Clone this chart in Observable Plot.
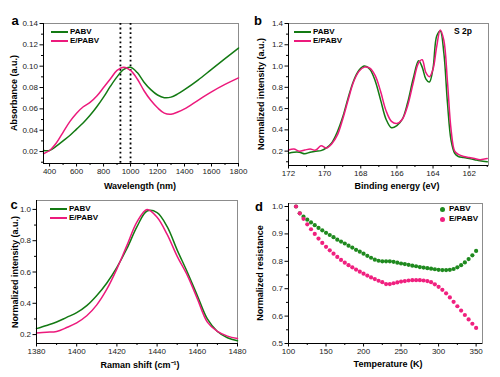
<!DOCTYPE html>
<html><head><meta charset="utf-8">
<script src="https://cdn.jsdelivr.net/npm/d3@7"></script>
<script src="https://cdn.jsdelivr.net/npm/@observablehq/plot@0.6"></script>
<style>
body{margin:0;background:#fff;}
#root{position:relative;width:500px;height:377px;overflow:hidden;font-family:"Liberation Sans",Arial,sans-serif;color:#000;}
.t{position:absolute;white-space:nowrap;line-height:1;transform:translate(-50%,-50%);}
.leg{position:absolute;font-size:8px;font-weight:bold;display:flex;align-items:center;white-space:nowrap;line-height:1;transform:translateY(-50%);}
.sw{display:inline-block;width:17px;height:0;border-top:2px solid;margin-right:2px;}
.dt{display:inline-block;width:5px;height:5px;border-radius:50%;margin-right:4px;}
</style></head>
<body><div id="root"></div>
<script>
const FONT = '"Liberation Sans", Arial, sans-serif';
const GREEN = "#137a13";
const PINK = "#ec1a7c";
const seriesNames = ["PABV", "E/PABV"];

// ---------- Panel a: absorbance ----------
const aWavelength = [355,400,450,500,550,600,650,700,750,800,850,900,950,1000,1050,1100,1150,1200,1250,1300,1350,1400,1500,1600,1700,1800];
const aPABV  = [0.021,0.021,0.025,0.030,0.035,0.041,0.047,0.054,0.062,0.071,0.081,0.090,0.097,0.099,0.094,0.085,0.078,0.073,0.0705,0.071,0.074,0.078,0.087,0.097,0.107,0.117];
const aEPABV = [0.018,0.021,0.028,0.038,0.048,0.056,0.062,0.066,0.072,0.080,0.088,0.096,0.099,0.096,0.088,0.077,0.068,0.061,0.056,0.055,0.057,0.060,0.068,0.076,0.083,0.089];
const aMarkers = [925, 1000];
const aXTicks = [400,600,800,1000,1200,1400,1600,1800];
const aYTicks = [0.02,0.04,0.06,0.08,0.10,0.12,0.14];

// ---------- Panel b: XPS S 2p ----------
const bEnergy = [172,171.7,171.4,171.1,170.8,170.5,170.2,169.9,169.6,169.3,169.0,168.7,168.4,168.1,167.8,167.5,167.2,166.9,166.6,166.3,166.0,165.7,165.4,165.1,164.8,164.6,164.4,164.2,164.0,163.8,163.6,163.4,163.2,163.0,162.8,162.6,162.3,162.0,161.7,161.4,161.0];
const bPABV  = [0.18,0.19,0.19,0.175,0.19,0.20,0.205,0.23,0.28,0.38,0.52,0.70,0.86,0.96,1.00,0.97,0.86,0.68,0.50,0.42,0.44,0.50,0.66,0.88,1.05,0.99,0.88,0.85,0.98,1.28,1.33,1.12,0.65,0.30,0.18,0.15,0.14,0.13,0.12,0.11,0.10];
const bEPABV = [0.21,0.22,0.20,0.21,0.22,0.21,0.25,0.23,0.27,0.35,0.50,0.68,0.85,0.95,0.99,0.98,0.91,0.76,0.58,0.48,0.46,0.50,0.63,0.84,1.03,1.06,0.94,0.90,0.97,1.18,1.34,1.24,0.85,0.40,0.20,0.17,0.15,0.14,0.13,0.12,0.13];
const bXTicks = [172,170,168,166,164,162];
const bYTicks = [0.2,0.4,0.6,0.8,1.0,1.2,1.4];

// ---------- Panel c: Raman ----------
const cShift = [1380,1385,1390,1395,1400,1405,1410,1415,1420,1425,1430,1435,1440,1445,1450,1455,1460,1465,1470,1475,1480];
const cPABV  = [0.238,0.258,0.28,0.31,0.34,0.385,0.45,0.53,0.63,0.75,0.89,0.99,0.98,0.89,0.74,0.60,0.45,0.30,0.22,0.18,0.16];
const cEPABV = [0.21,0.215,0.22,0.245,0.275,0.32,0.39,0.49,0.62,0.77,0.92,1.0,0.95,0.84,0.70,0.58,0.43,0.28,0.22,0.19,0.175];
const cXTicks = [1380,1400,1420,1440,1460,1480];
const cYTicks = [0.2,0.4,0.6,0.8,1.0];

// ---------- Panel d: resistance vs temperature ----------
const dTemp = [110,115,120,125,130,135,140,145,150,155,160,165,170,175,180,185,190,195,200,205,210,215,220,225,230,235,240,245,250,255,260,265,270,275,280,285,290,295,300,305,310,315,320,325,330,335,340,345,350];
const dPABV  = [1.0,0.975,0.963,0.952,0.942,0.932,0.922,0.913,0.904,0.896,0.888,0.879,0.872,0.865,0.857,0.85,0.842,0.835,0.828,0.82,0.813,0.806,0.802,0.80,0.80,0.80,0.798,0.795,0.792,0.79,0.787,0.784,0.782,0.779,0.777,0.775,0.773,0.771,0.769,0.768,0.768,0.769,0.772,0.778,0.786,0.796,0.808,0.822,0.838];
const dEPABV = [1.0,0.975,0.955,0.935,0.917,0.9,0.883,0.867,0.853,0.84,0.828,0.816,0.805,0.795,0.786,0.778,0.77,0.762,0.755,0.748,0.741,0.735,0.729,0.724,0.717,0.717,0.72,0.723,0.726,0.728,0.73,0.731,0.731,0.731,0.73,0.728,0.724,0.716,0.707,0.696,0.683,0.668,0.652,0.636,0.62,0.604,0.588,0.572,0.557];
const dXTicks = [100,150,200,250,300,350];
const dYTicks = [0.5,0.6,0.7,0.8,0.9,1.0];

const rows = (xs, ys) => xs.map((x, i) => ({x, y: ys[i]}));
const root = document.getElementById("root");

function makePanel(c) {
  const p = Plot.plot({
    width: c.w, height: c.h,
    marginLeft: c.mL, marginRight: c.mR, marginTop: c.mT, marginBottom: c.mB,
    x: {domain: c.xd}, y: {domain: c.yd},
    style: {fontFamily: FONT, fontSize: "8px", color: "#000", background: "transparent", overflow: "visible"},
    marks: [
      Plot.frame({stroke: "#8c8c8c", strokeWidth: 1}),
      ...c.marks,
      Plot.ruleX([c.xd[0]], {stroke: "#000", strokeWidth: 1}),
      Plot.ruleY([c.yd[0]], {stroke: "#000", strokeWidth: 1}),
      Plot.axisX(c.xMinor, {tickSize: 2, tickFormat: () => "", label: null}),
      Plot.axisY(c.yMinor, {tickSize: 2, tickFormat: () => "", label: null}),
      Plot.axisX(c.xTicks, {tickSize: 3.5, tickPadding: 1.5, tickFormat: c.xf, label: null, fill: "#222"}),
      Plot.axisY(c.yTicks, {tickSize: 3.5, tickPadding: 2, tickFormat: c.yf, label: null, fill: "#222"})
    ]
  });
  p.style.position = "absolute";
  p.style.left = c.left + "px";
  p.style.top = c.top + "px";
  root.appendChild(p);
}

const lineOpts = (stroke) => ({x: "x", y: "y", stroke, strokeWidth: 1.5, curve: "catmull-rom"});

makePanel({
  left: 0, top: 0, w: 250, h: 195, mL: 43, mR: 12, mT: 23, mB: 32,
  xd: [355, 1800], yd: [0.0088, 0.14],
  xTicks: aXTicks, yTicks: aYTicks,
  xMinor: d3.range(500, 1800, 200), yMinor: d3.range(0.01, 0.135, 0.02),
  xf: d3.format("d"), yf: d3.format(".2f"),
  marks: [
    Plot.ruleX(aMarkers, {stroke: "#000", strokeWidth: 1.8, strokeDasharray: "1.8 2.8"}),
    Plot.line(rows(aWavelength, aPABV), lineOpts(GREEN)),
    Plot.line(rows(aWavelength, aEPABV), lineOpts(PINK))
  ]
});

makePanel({
  left: 250, top: 0, w: 250, h: 195, mL: 38, mR: 12, mT: 23, mB: 30,
  xd: [172, 160.93], yd: [0.065, 1.4],
  xTicks: bXTicks, yTicks: bYTicks,
  xMinor: d3.range(161, 172, 2), yMinor: d3.range(0.1, 1.35, 0.2),
  xf: d3.format("d"), yf: d3.format(".1f"),
  marks: [
    Plot.line(rows(bEnergy, bPABV), lineOpts(GREEN)),
    Plot.line(rows(bEnergy, bEPABV), lineOpts(PINK))
  ]
});

makePanel({
  left: 0, top: 190, w: 250, h: 187, mL: 36, mR: 13, mT: 10, mB: 34,
  xd: [1380, 1480], yd: [0.143, 1.057],
  xTicks: cXTicks, yTicks: cYTicks,
  xMinor: d3.range(1390, 1480, 20), yMinor: d3.range(0.3, 1.0, 0.2),
  xf: d3.format("d"), yf: d3.format(".1f"),
  marks: [
    Plot.line(rows(cShift, cPABV), lineOpts(GREEN)),
    Plot.line(rows(cShift, cEPABV), lineOpts(PINK))
  ]
});

makePanel({
  left: 250, top: 190, w: 250, h: 187, mL: 38, mR: 18, mT: 13, mB: 34,
  xd: [100, 358.5], yd: [0.5, 1.011],
  xTicks: dXTicks, yTicks: dYTicks,
  xMinor: d3.range(125, 350, 50), yMinor: d3.range(0.55, 1.0, 0.1),
  xf: d3.format("d"), yf: d3.format(".1f"),
  marks: [
    Plot.dot(rows(dTemp, dPABV), {x: "x", y: "y", r: 2.1, fill: "#1f8a1f", stroke: "none"}),
    Plot.dot(rows(dTemp, dEPABV), {x: "x", y: "y", r: 2.1, fill: "#f0207f", stroke: "none"})
  ]
});

// ---------- text overlays ----------
function txt(x, y, s, size, weight, rot) {
  const d = document.createElement("div");
  d.className = "t";
  d.textContent = s;
  d.style.left = x + "px";
  d.style.top = y + "px";
  d.style.fontSize = size + "px";
  d.style.fontWeight = weight;
  if (rot) d.style.transform = "translate(-50%,-50%) rotate(-90deg)";
  root.appendChild(d);
}
// panel letters
txt(15, 20, "a", 13, "bold");
txt(258, 20, "b", 13, "bold");
txt(14, 204, "c", 13, "bold");
txt(259, 206, "d", 13, "bold");
// axis titles
txt(140, 185.5, "Wavelength (nm)", 9, "bold");
txt(14, 93, "Absorbance (a.u.)", 9, "bold", true);
txt(397, 185.5, "Binding energy (eV)", 9, "bold");
txt(261, 94, "Normalized intensity (a.u.)", 9, "bold", true);
txt(140, 365, "Raman shift (cm\u207B\u00B9)", 9, "bold");
txt(15, 272, "Normalized intensity (a.u.)", 9, "bold", true);
txt(388, 364, "Temperature (K)", 9, "bold");
txt(260, 273, "Normalized resistance", 9, "bold", true);
txt(463, 31, "S 2p", 8.5, "bold");

// legends
function legLine(x, y, color, label) {
  const d = document.createElement("div");
  d.className = "leg";
  d.style.left = x + "px"; d.style.top = y + "px";
  const s = document.createElement("span"); s.className = "sw"; s.style.borderTopColor = color;
  d.appendChild(s); d.appendChild(document.createTextNode(label));
  root.appendChild(d);
}
function legDot(x, y, color, label) {
  const d = document.createElement("div");
  d.className = "leg";
  d.style.left = x + "px"; d.style.top = y + "px";
  const s = document.createElement("span"); s.className = "dt"; s.style.background = color;
  d.appendChild(s); d.appendChild(document.createTextNode(label));
  root.appendChild(d);
}
legLine(51, 31.5, GREEN, seriesNames[0]);
legLine(51, 40.5, PINK, seriesNames[1]);
legLine(294, 31.5, GREEN, seriesNames[0]);
legLine(294, 40.5, PINK, seriesNames[1]);
legLine(50, 209, GREEN, seriesNames[0]);
legLine(50, 218, PINK, seriesNames[1]);
legDot(440, 209, "#1f8a1f", seriesNames[0]);
legDot(440, 219, "#f0207f", seriesNames[1]);
</script>
</body></html>
